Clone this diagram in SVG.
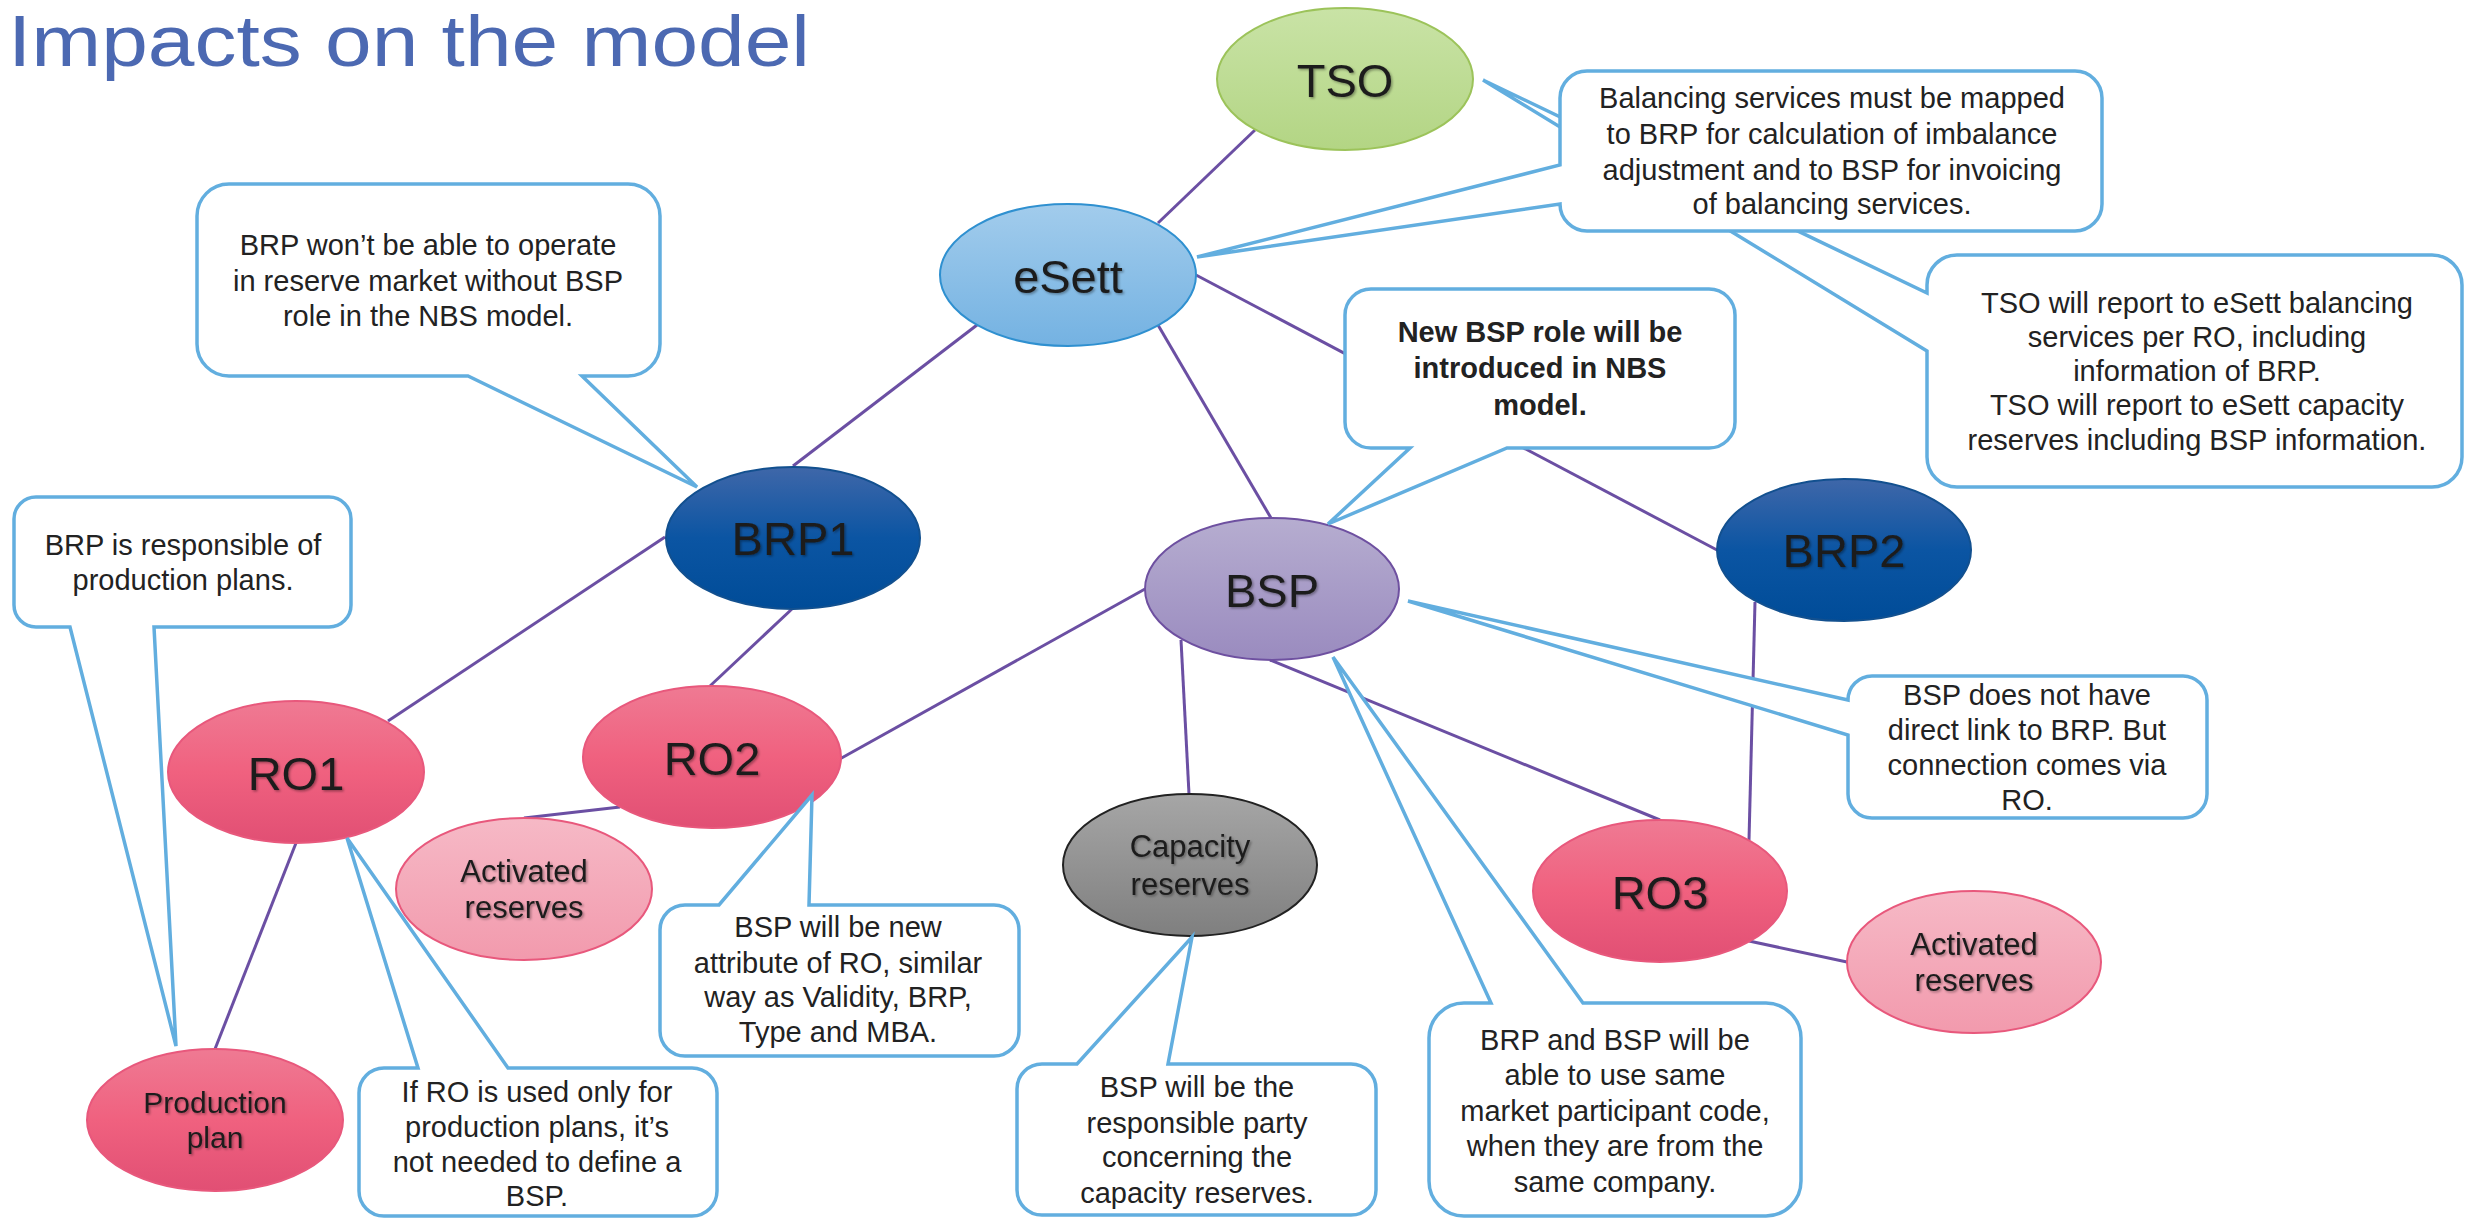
<svg xmlns="http://www.w3.org/2000/svg" width="2466" height="1219" viewBox="0 0 2466 1219">
<style>
.conn{stroke:#6B4FA3;stroke-width:3;fill:none}
.call{fill:#fff;stroke:#62AEDF;stroke-width:3.5;stroke-linejoin:miter}
.ct{font-family:"Liberation Sans",Arial,sans-serif;font-size:29px;fill:#222;text-anchor:middle}
.bold{font-weight:bold}
.nt{font-family:"Liberation Sans",Arial,sans-serif;font-size:47px;fill:#1c1c1c;text-anchor:middle;filter:url(#sh)}
.sm{font-size:31px}
.title{font-family:"Liberation Sans",Arial,sans-serif;font-size:72px;fill:#4C69B2}
</style>
<defs>
<filter id="sh" x="-20%" y="-20%" width="140%" height="140%"><feDropShadow dx="1.5" dy="1.5" stdDeviation="1" flood-color="#000" flood-opacity="0.35"/></filter>
<linearGradient id="gTSO" x1="0" y1="0" x2="0" y2="1"><stop offset="0" stop-color="#C9E3A6"/><stop offset="1" stop-color="#B3D584"/></linearGradient>
<linearGradient id="gES" x1="0" y1="0" x2="0" y2="1"><stop offset="0" stop-color="#A2CCEC"/><stop offset="1" stop-color="#74B2E2"/></linearGradient>
<linearGradient id="gBRP" x1="0" y1="0" x2="0" y2="1"><stop offset="0" stop-color="#3F67A9"/><stop offset="0.5" stop-color="#0B55A3"/><stop offset="1" stop-color="#004C98"/></linearGradient>
<linearGradient id="gBSP" x1="0" y1="0" x2="0" y2="1"><stop offset="0" stop-color="#B6ADD0"/><stop offset="1" stop-color="#9A8BBF"/></linearGradient>
<linearGradient id="gRO" x1="0" y1="0" x2="0" y2="1"><stop offset="0" stop-color="#EF7A93"/><stop offset="0.5" stop-color="#F0617F"/><stop offset="1" stop-color="#E14F74"/></linearGradient>
<linearGradient id="gAR" x1="0" y1="0" x2="0" y2="1"><stop offset="0" stop-color="#F6B9C6"/><stop offset="1" stop-color="#F29AAD"/></linearGradient>
<linearGradient id="gCAP" x1="0" y1="0" x2="0" y2="1"><stop offset="0" stop-color="#A6A6A6"/><stop offset="1" stop-color="#7F7F7F"/></linearGradient>
</defs>
<rect width="2466" height="1219" fill="#fff"/>
<text class="title" x="8" y="66" textLength="802" lengthAdjust="spacingAndGlyphs">Impacts on the model</text>

<g id="connectors">
<line class="conn" x1="1255" y1="130" x2="1158" y2="223"/>
<line class="conn" x1="977" y1="325" x2="793" y2="466"/>
<line class="conn" x1="1158" y1="325" x2="1271" y2="518"/>
<line class="conn" x1="1196" y1="275" x2="1717" y2="550"/>
<line class="conn" x1="665" y1="537" x2="388" y2="721"/>
<line class="conn" x1="793" y1="608" x2="710" y2="686"/>
<line class="conn" x1="1145" y1="589" x2="838" y2="760"/>
<line class="conn" x1="1181" y1="640" x2="1189" y2="794"/>
<line class="conn" x1="1270" y1="660" x2="1660" y2="820"/>
<line class="conn" x1="1755" y1="602" x2="1749" y2="840"/>
<line class="conn" x1="620" y1="807" x2="524" y2="818"/>
<line class="conn" x1="296" y1="843" x2="215" y2="1049"/>
<line class="conn" x1="1749" y1="941" x2="1847" y2="962"/>
</g>

<g id="node-tso"><ellipse cx="1345" cy="79" rx="128" ry="71" fill="url(#gTSO)" stroke="#9CC35A" stroke-width="2"/><text class="nt" x="1345" y="97">TSO</text></g>
<g id="node-esett"><ellipse cx="1068" cy="275" rx="128" ry="71" fill="url(#gES)" stroke="#2F90D0" stroke-width="2"/><text class="nt" x="1068" y="293">eSett</text></g>
<g id="node-brp1"><ellipse cx="793" cy="538" rx="127" ry="71" fill="url(#gBRP)" stroke="#12508F" stroke-width="2"/><text class="nt" x="793" y="555">BRP1</text></g>
<g id="node-bsp"><ellipse cx="1272" cy="589" rx="127" ry="71" fill="url(#gBSP)" stroke="#6E50A0" stroke-width="2"/><text class="nt" x="1272" y="607">BSP</text></g>
<g id="node-brp2"><ellipse cx="1844" cy="550" rx="127" ry="71" fill="url(#gBRP)" stroke="#12508F" stroke-width="2"/><text class="nt" x="1844" y="567">BRP2</text></g>
<g id="node-ro1"><ellipse cx="296" cy="772" rx="128" ry="71" fill="url(#gRO)" stroke="#E8587C" stroke-width="2"/><text class="nt" x="296" y="790">RO1</text></g>
<g id="node-ro2"><ellipse cx="712" cy="757" rx="129" ry="71" fill="url(#gRO)" stroke="#E8587C" stroke-width="2"/><text class="nt" x="712" y="775">RO2</text></g>
<g id="node-ro3"><ellipse cx="1660" cy="891" rx="127" ry="71" fill="url(#gRO)" stroke="#E8587C" stroke-width="2"/><text class="nt" x="1660" y="909">RO3</text></g>
<g id="node-act1"><ellipse cx="524" cy="889" rx="128" ry="71" fill="url(#gAR)" stroke="#E8587C" stroke-width="2"/><text class="nt sm" x="524" y="882">Activated</text><text class="nt sm" x="524" y="918">reserves</text></g>
<g id="node-act2"><ellipse cx="1974" cy="962" rx="127" ry="71" fill="url(#gAR)" stroke="#E8587C" stroke-width="2"/><text class="nt sm" x="1974" y="955">Activated</text><text class="nt sm" x="1974" y="991">reserves</text></g>
<g id="node-cap"><ellipse cx="1190" cy="865" rx="127" ry="71" fill="url(#gCAP)" stroke="#222" stroke-width="2"/><text class="nt sm" x="1190" y="857">Capacity</text><text class="nt sm" x="1190" y="895">reserves</text></g>
<g id="node-prod"><ellipse cx="215" cy="1120" rx="128" ry="71" fill="url(#gRO)" stroke="#E8587C" stroke-width="2"/><text class="nt" style="font-size:30px" x="215" y="1113">Production</text><text class="nt" style="font-size:30px" x="215" y="1148">plan</text></g>

<g id="callout-tso-report">
<path class="call" d="M1957,255 H2432 A30,30 0 0 1 2462,285 V457 A30,30 0 0 1 2432,487 H1957 A30,30 0 0 1 1927,457 V351 L1483,80 L1927,293 V285 A30,30 0 0 1 1957,255 Z"/>
<text class="ct"><tspan x="2197" y="313">TSO will report to eSett balancing</tspan><tspan x="2197" y="347">services per RO, including</tspan><tspan x="2197" y="381">information of BRP.</tspan><tspan x="2197" y="415">TSO will report to eSett capacity</tspan><tspan x="2197" y="450">reserves including BSP information.</tspan></text>
</g>
<g id="callout-balancing">
<path class="call" d="M1587,71 H2075 A27,27 0 0 1 2102,98 V204 A27,27 0 0 1 2075,231 H1587 A27,27 0 0 1 1560,204 L1197,257 L1560,165 V98 A27,27 0 0 1 1587,71 Z"/>
<text class="ct"><tspan x="1832" y="108">Balancing services must be mapped</tspan><tspan x="1832" y="144">to BRP for calculation of imbalance</tspan><tspan x="1832" y="180">adjustment and to BSP for invoicing</tspan><tspan x="1832" y="214">of balancing services.</tspan></text>
</g>
<g id="callout-brp-reserve">
<path class="call" d="M229,184 H628 A32,32 0 0 1 660,216 V344 A32,32 0 0 1 628,376 H582 L697,487 L468,376 H229 A32,32 0 0 1 197,344 V216 A32,32 0 0 1 229,184 Z"/>
<text class="ct"><tspan x="428" y="255">BRP won’t be able to operate</tspan><tspan x="428" y="291">in reserve market without BSP</tspan><tspan x="428" y="326">role in the NBS model.</tspan></text>
</g>
<g id="callout-new-bsp">
<path class="call" d="M1371,289 H1709 A26,26 0 0 1 1735,315 V422 A26,26 0 0 1 1709,448 H1507 L1328,524 L1410,448 H1371 A26,26 0 0 1 1345,422 V315 A26,26 0 0 1 1371,289 Z"/>
<text class="ct bold"><tspan x="1540" y="342">New BSP role will be</tspan><tspan x="1540" y="378">introduced in NBS</tspan><tspan x="1540" y="415">model.</tspan></text>
</g>
<g id="callout-brp-prod">
<path class="call" d="M36,497 H329 A22,22 0 0 1 351,519 V605 A22,22 0 0 1 329,627 H154 L176,1046 L70,627 H36 A22,22 0 0 1 14,605 V519 A22,22 0 0 1 36,497 Z"/>
<text class="ct"><tspan x="183" y="555">BRP is responsible of</tspan><tspan x="183" y="590">production plans.</tspan></text>
</g>
<g id="callout-bsp-attr">
<path class="call" d="M685,905 H719 L812,795 L809,905 H994 A25,25 0 0 1 1019,930 V1031 A25,25 0 0 1 994,1056 H685 A25,25 0 0 1 660,1031 V930 A25,25 0 0 1 685,905 Z"/>
<text class="ct"><tspan x="838" y="937">BSP will be new</tspan><tspan x="838" y="973">attribute of RO, similar</tspan><tspan x="838" y="1007">way as Validity, BRP,</tspan><tspan x="838" y="1042">Type and MBA.</tspan></text>
</g>
<g id="callout-if-ro">
<path class="call" d="M384,1068 H418 L347,838 L508,1068 H692 A25,25 0 0 1 717,1093 V1191 A25,25 0 0 1 692,1216 H384 A25,25 0 0 1 359,1191 V1093 A25,25 0 0 1 384,1068 Z"/>
<text class="ct"><tspan x="537" y="1102">If RO is used only for</tspan><tspan x="537" y="1137">production plans, it’s</tspan><tspan x="537" y="1172">not needed to define a</tspan><tspan x="537" y="1206">BSP.</tspan></text>
</g>
<g id="callout-bsp-capacity">
<path class="call" d="M1042,1064 H1077 L1192,937 L1168,1064 H1351 A25,25 0 0 1 1376,1089 V1190 A25,25 0 0 1 1351,1215 H1042 A25,25 0 0 1 1017,1190 V1089 A25,25 0 0 1 1042,1064 Z"/>
<text class="ct"><tspan x="1197" y="1097">BSP will be the</tspan><tspan x="1197" y="1133">responsible party</tspan><tspan x="1197" y="1167">concerning the</tspan><tspan x="1197" y="1203">capacity reserves.</tspan></text>
</g>
<g id="callout-same-code">
<path class="call" d="M1464,1003 H1491 L1333,657 L1583,1003 H1766 A35,35 0 0 1 1801,1038 V1181 A35,35 0 0 1 1766,1216 H1464 A35,35 0 0 1 1429,1181 V1038 A35,35 0 0 1 1464,1003 Z"/>
<text class="ct"><tspan x="1615" y="1050">BRP and BSP will be</tspan><tspan x="1615" y="1085">able to use same</tspan><tspan x="1615" y="1121">market participant code,</tspan><tspan x="1615" y="1156">when they are from the</tspan><tspan x="1615" y="1192">same company.</tspan></text>
</g>
<g id="callout-no-link">
<path class="call" d="M1872,676 H2183 A24,24 0 0 1 2207,700 V794 A24,24 0 0 1 2183,818 H1872 A24,24 0 0 1 1848,794 V735 L1408,601 L1848,700 A24,24 0 0 1 1872,676 Z"/>
<text class="ct"><tspan x="2027" y="705">BSP does not have</tspan><tspan x="2027" y="740">direct link to BRP. But</tspan><tspan x="2027" y="775">connection comes via</tspan><tspan x="2027" y="810">RO.</tspan></text>
</g>
</svg>
